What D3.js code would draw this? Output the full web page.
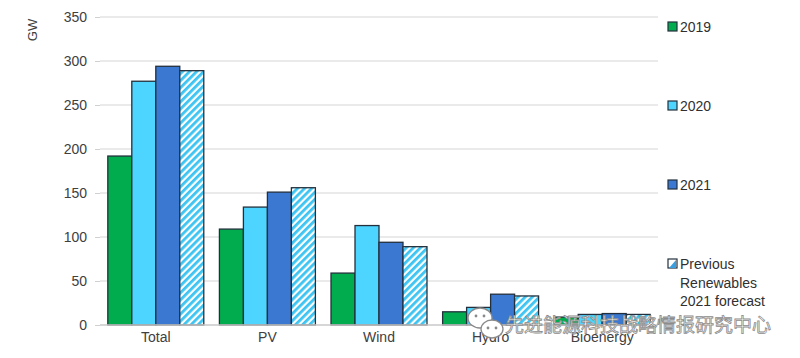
<!DOCTYPE html>
<html>
<head>
<meta charset="utf-8">
<script src="https://cdn.jsdelivr.net/npm/d3@7"></script>
<style>
  body { margin: 0; background: #fff; }
  svg text { font-family: "Liberation Sans", Arial, sans-serif; }
</style>
</head>
<body>
<div id="chart"></div>
<script>
// data
var categories = ["Total", "PV", "Wind", "Hydro", "Bioenergy"];
var seriesNames = ["2019", "2020", "2021", "Previous Renewables 2021 forecast"];
var v2019 = [192, 109, 59, 15, 9];
var v2020 = [277, 134, 113, 20, 12];
var v2021 = [294, 151, 94, 35, 13];
var vForecast = [289, 156, 89, 33, 12];
var yTicks = [0, 50, 100, 150, 200, 250, 300, 350];

var svgWidth = 800, svgHeight = 358;
var margin = {top: 17, right: 142, bottom: 33, left: 100};
var width = svgWidth - margin.left - margin.right;
var height = svgHeight - margin.top - margin.bottom;

var svg = d3.select("#chart").append("svg")
    .attr("width", svgWidth)
    .attr("height", svgHeight);

var defs = svg.append("defs");
var pat = defs.append("pattern")
    .attr("id", "hatch")
    .attr("patternUnits", "userSpaceOnUse")
    .attr("width", 5).attr("height", 5)
    .attr("patternTransform", "rotate(45)");
pat.append("rect").attr("width", 5).attr("height", 5).attr("fill", "#ffffff");
pat.append("rect").attr("width", 2.8).attr("height", 5).attr("fill", "#3cc4f2");

var colors = ["#00ac4e", "#4dd4ff", "#3a78d2", "url(#hatch)"];
var legendFill = ["#00ac4e", "#4dd4ff", "#3a78d2", "#3a9fe0"];

var chart = svg.append("g")
    .attr("transform", "translate(" + margin.left + "," + margin.top + ")");

var x0 = d3.scaleBand().domain(categories).range([0, width]).paddingInner(0.14).paddingOuter(0.07);
var x1 = d3.scaleBand().domain(d3.range(4)).range([0, x0.bandwidth()]);
var y = d3.scaleLinear().domain([0, 350]).range([height, 0]);

// gridlines
chart.append("g").selectAll("line")
    .data(yTicks.slice(1))
    .enter().append("line")
    .attr("x1", 0).attr("x2", width)
    .attr("y1", d => y(d)).attr("y2", d => y(d))
    .attr("stroke", "#e3e3e3").attr("stroke-width", 1.3);

var leftAxis = d3.axisLeft(y).tickValues(yTicks).tickSize(5).tickPadding(8);
var yAxisG = chart.append("g").call(leftAxis);
yAxisG.select(".domain").remove();
yAxisG.selectAll(".tick line").attr("stroke", "#d0d0d0");
yAxisG.selectAll("text").attr("fill", "#404040").style("font-size", "14px");

chart.append("text")
    .attr("transform", "translate(" + (-63) + ",13) rotate(-90)")
    .attr("text-anchor", "middle")
    .attr("fill", "#404040")
    .style("font-size", "13px")
    .text("GW");

var allSeries = [v2019, v2020, v2021, vForecast];
var groups = chart.selectAll(".cat")
    .data(categories)
    .enter().append("g")
    .attr("transform", d => "translate(" + x0(d) + ",0)");

groups.selectAll("rect")
    .data((c, i) => allSeries.map((s, k) => ({k: k, v: s[i]})))
    .enter().append("rect")
    .attr("x", d => x1(d.k))
    .attr("y", d => y(d.v))
    .attr("width", x1.bandwidth())
    .attr("height", d => y(0) - y(d.v))
    .attr("fill", d => colors[d.k])
    .attr("stroke", "#23303c")
    .attr("stroke-width", 1.3);

// baseline
chart.append("line")
    .attr("x1", 0).attr("x2", width)
    .attr("y1", y(0)).attr("y2", y(0))
    .attr("stroke", "#c8c8c8").attr("stroke-width", 1.3);

var bottomAxis = d3.axisBottom(x0).tickSize(0).tickPadding(7);
var xAxisG = chart.append("g").attr("transform", "translate(0," + height + ")").call(bottomAxis);
xAxisG.select(".domain").remove();
xAxisG.selectAll("text").attr("fill", "#404040").style("font-size", "14px");

// legend
var legendY = [27, 106, 185, 264];
var legend = svg.append("g").attr("transform", "translate(668,0)");
seriesNames.forEach(function(name, i) {
    var g = legend.append("g").attr("transform", "translate(0," + legendY[i] + ")");
    if (i < 3) {
        g.append("rect").attr("x", 0).attr("y", -5).attr("width", 9).attr("height", 9)
            .attr("fill", legendFill[i]).attr("stroke", "#23303c").attr("stroke-width", 1.2);
    } else {
        g.append("rect").attr("x", 0).attr("y", -5).attr("width", 9).attr("height", 9)
            .attr("fill", "#ffffff").attr("stroke", "#23303c").attr("stroke-width", 1.2);
        g.append("path").attr("d", "M1,4 L8,-4 L8,4 Z").attr("fill", legendFill[i]);
    }
    var lines = i < 3 ? [name] : ["Previous", "Renewables", "2021 forecast"];
    var t = g.append("text").attr("x", 12).attr("y", 5)
        .attr("fill", "#303030").style("font-size", "14px");
    lines.forEach(function(l, j) {
        t.append("tspan").attr("x", 12).attr("dy", j === 0 ? 0 : 18.5).text(l);
    });
});

// watermark
var wm = svg.append("g");
wm.append("ellipse").attr("cx", 480).attr("cy", 318).attr("rx", 12).attr("ry", 10)
    .attr("fill", "#ffffff").attr("stroke", "#8a8a8a").attr("stroke-width", 1.3);
wm.append("ellipse").attr("cx", 492).attr("cy", 329).attr("rx", 11).attr("ry", 9)
    .attr("fill", "#ffffff").attr("stroke", "#8a8a8a").attr("stroke-width", 1.3);
[[476, 316], [484, 316], [488, 328], [496, 328]].forEach(function(p) {
    wm.append("circle").attr("cx", p[0]).attr("cy", p[1]).attr("r", 1.4).attr("fill", "#8a8a8a");
});
wm.append("text")
    .attr("x", 505).attr("y", 332)
    .attr("fill", "#ffffff").attr("stroke", "#8c8c8c").attr("stroke-width", 0.8)
    .style("font-family", "'Noto Sans CJK SC', sans-serif")
    .style("font-size", "19px")
    .text("先进能源科技战略情报研究中心");
</script>
</body>
</html>
